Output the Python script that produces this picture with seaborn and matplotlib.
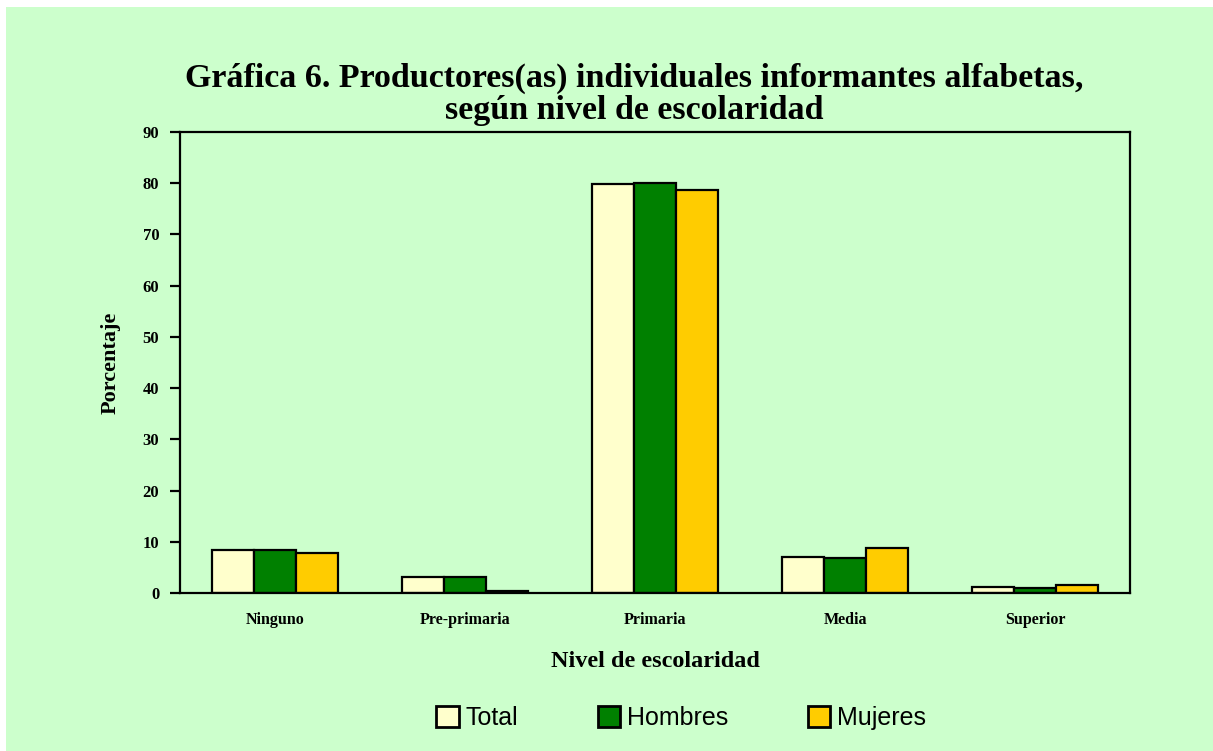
import matplotlib
matplotlib.use("Agg")
import matplotlib.pyplot as plt
import seaborn as sns
import pandas as pd
from matplotlib.patches import Rectangle, Patch

categories = ["Ninguno", "Pre-primaria", "Primaria", "Media", "Superior"]
series = ["Total", "Hombres", "Mujeres"]
total = [8.3, 3.1, 79.9, 7.1, 1.1]
hombres = [8.4, 3.1, 80.0, 6.9, 1.0]
mujeres = [7.8, 0.3, 78.7, 8.8, 1.5]
colors = ["#FFFFCC", "#008000", "#FFCC00"]

rows = []
for s, vals in zip(series, [total, hombres, mujeres]):
    for c, v in zip(categories, vals):
        rows.append({"Nivel": c, "Serie": s, "Valor": v})
df = pd.DataFrame(rows)

sns.set_theme(style="white")
plt.rcParams["font.family"] = ["Liberation Serif", "DejaVu Serif"]
plt.rcParams["text.color"] = "black"
plt.rcParams["axes.labelcolor"] = "black"
plt.rcParams["xtick.color"] = "black"
plt.rcParams["ytick.color"] = "black"

W, H = 1213, 751
fig = plt.figure(figsize=(W / 100, H / 100), dpi=100)
fig.patch.set_facecolor("white")
fig.patches.append(Rectangle((6 / W, -0.01), 1.0, 1.01 - 7 / H, transform=fig.transFigure,
                             facecolor="#CCFFCC", edgecolor="none", zorder=-10))

ax = fig.add_axes([180 / W, 1 - 593 / H, 950 / W, 461 / H])
ax.set_facecolor("#CCFFCC")

sns.barplot(data=df, x="Nivel", y="Valor", hue="Serie", order=categories, hue_order=series,
            palette=colors, width=0.66, gap=0, edgecolor="black", linewidth=1.6,
            saturation=1, legend=False, ax=ax)

ax.set_ylim(0, 90)
ax.set_yticks(range(0, 91, 10))
ax.set_xlim(-0.5, 4.5)
for sp in ax.spines.values():
    sp.set_visible(True)
    sp.set_color("black")
    sp.set_linewidth(1.6)

ax.tick_params(axis="y", direction="out", length=7, width=1.6, color="black", labelsize=12, pad=8, left=True)
ax.tick_params(axis="x", length=0, labelsize=11.5, pad=14)
for lab in ax.get_yticklabels() + ax.get_xticklabels():
    lab.set_fontweight("bold")

ax.set_xlabel("Nivel de escolaridad", fontsize=17.5, fontweight="bold", labelpad=16)
ax.set_ylabel("Porcentaje", fontsize=16, fontweight="bold", labelpad=16)

fig.text(634 / W, 1 - 94 / H, "Gráfica 6. Productores(as) individuales informantes alfabetas,\nsegún nivel de escolaridad",
         ha="center", va="center", fontsize=24.5, fontweight="bold", linespacing=1.05)

handles = [Patch(facecolor=c, edgecolor="black", linewidth=2) for c in colors]
fig.legend(handles, series, loc="center", bbox_to_anchor=(681 / W, 1 - 718 / H), ncol=3,
           frameon=False, prop={"family": "Liberation Sans", "size": 18},
           handlelength=0.9, handleheight=0.9, handletextpad=0.25, columnspacing=3.2)

fig.savefig("out.png", dpi=100)
